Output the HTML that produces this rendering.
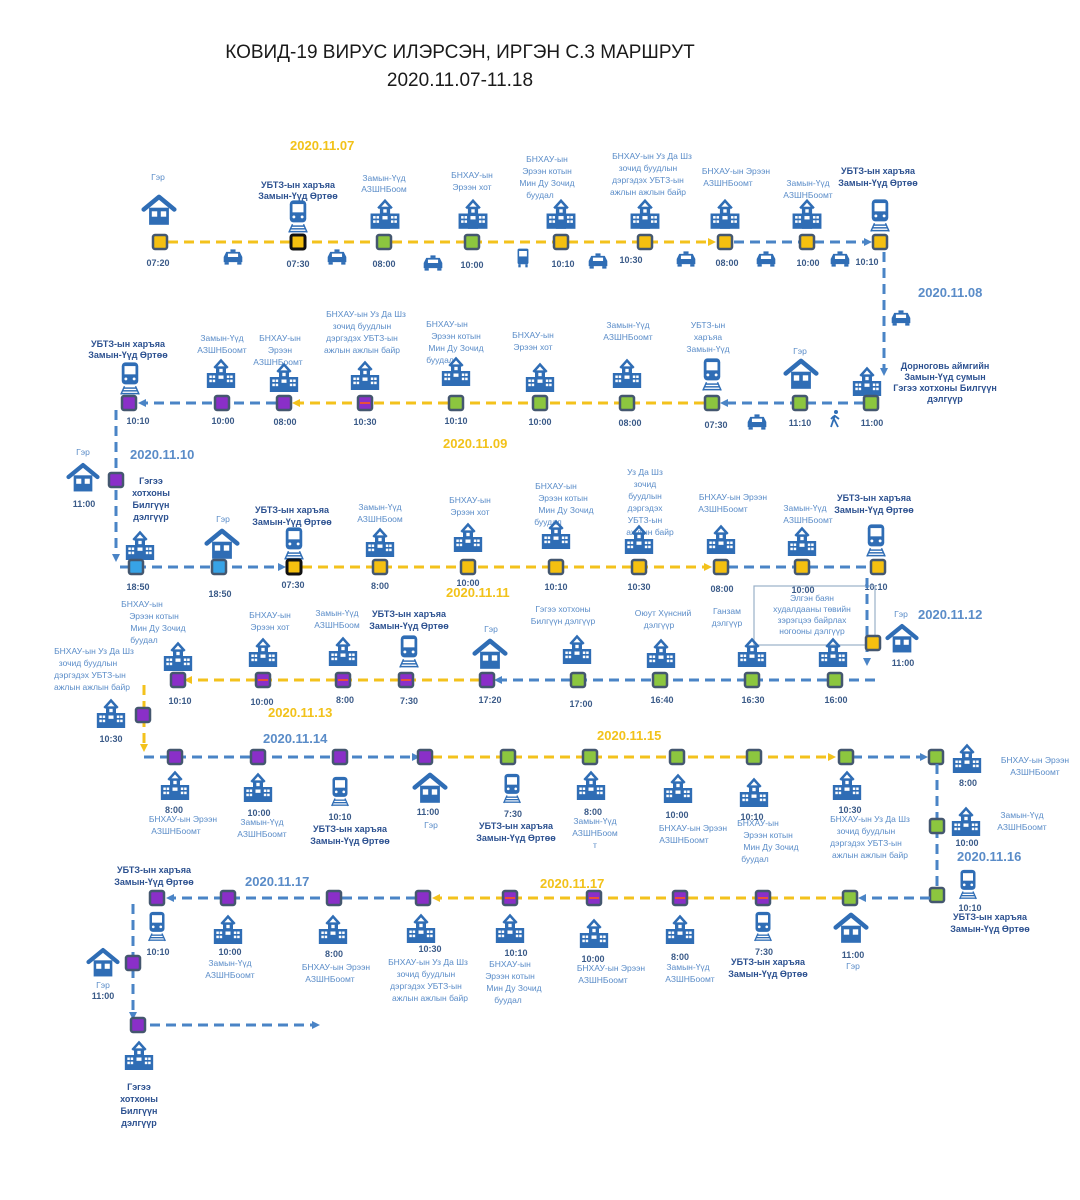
<!DOCTYPE html>
<html><head><meta charset="utf-8"><style>
html,body{margin:0;padding:0;background:#fff;}
svg{display:block;}
text{font-family:"Liberation Sans","DejaVu Sans",sans-serif;}
.l{fill:#5a8cc8;font-size:8.5px;text-anchor:middle;}
.b{fill:#2c5190;font-size:9px;font-weight:bold;text-anchor:middle;}
.t{fill:#3a5a88;font-size:9px;font-weight:bold;text-anchor:middle;}
.dy{fill:#f2c21a;font-size:13px;font-weight:bold;}
.db{fill:#5a8cc8;font-size:13px;font-weight:bold;}
.yl{stroke:#f3c21c;stroke-width:3;stroke-dasharray:10 6;fill:none;}
.bl{stroke:#4a84c6;stroke-width:3;stroke-dasharray:10 6;fill:none;}
.ny{fill:#f5c010;stroke:#44576f;stroke-width:2.5;}
.nk{fill:#f5c010;stroke:#111;stroke-width:3;}
.ng{fill:#8cc63f;stroke:#44576f;stroke-width:2.5;}
.np{fill:#8a2fc8;stroke:#44576f;stroke-width:2.5;}
.nb{fill:#37a3e6;stroke:#44576f;stroke-width:2.5;}
.rd{stroke:#e8503a;stroke-width:2;}
</style></head><body>
<svg width="1080" height="1200" viewBox="0 0 1080 1200" xmlns="http://www.w3.org/2000/svg">
<defs>
<symbol id="house" viewBox="0 0 40 34"><path d="M3 17 L20 3 L37 17" fill="none" stroke="#2f6db5" stroke-width="5" stroke-linecap="round" stroke-linejoin="round"/><rect x="9" y="15" width="22" height="19" fill="#2f6db5"/><rect x="12" y="19" width="6" height="6" fill="#fff"/><rect x="22" y="19" width="6" height="6" fill="#fff"/></symbol>
<symbol id="bld" viewBox="0 0 40 36"><path d="M12 12 L20 3 L28 12" fill="none" stroke="#2f6db5" stroke-width="3"/><rect x="14" y="10" width="12" height="26" fill="#2f6db5"/><rect x="3" y="18" width="34" height="18" fill="#2f6db5"/><rect x="18" y="13" width="4" height="4" fill="#fff"/><g fill="#fff"><rect x="6" y="21" width="3" height="3"/><rect x="10" y="21" width="3" height="3"/><rect x="6" y="26" width="3" height="3"/><rect x="10" y="26" width="3" height="3"/><rect x="27" y="21" width="3" height="3"/><rect x="31" y="21" width="3" height="3"/><rect x="27" y="26" width="3" height="3"/><rect x="31" y="26" width="3" height="3"/><rect x="17" y="21" width="6" height="4"/></g></symbol>
<symbol id="train" viewBox="0 0 24 36"><rect x="3" y="1" width="18" height="24" rx="4" fill="#2f6db5"/><rect x="6" y="5" width="12" height="9" fill="#fff"/><circle cx="7.5" cy="19" r="1.6" fill="#fff"/><circle cx="16.5" cy="19" r="1.6" fill="#fff"/><g stroke="#2f6db5" stroke-width="1.6"><line x1="6" y1="27" x2="2" y2="36"/><line x1="18" y1="27" x2="22" y2="36"/><line x1="5" y1="29" x2="19" y2="29"/><line x1="4" y1="32" x2="20" y2="32"/><line x1="3" y1="35" x2="21" y2="35"/></g></symbol>
<symbol id="car" viewBox="0 0 26 18"><rect x="10" y="0" width="6" height="3" fill="#2f6db5"/><path d="M5 3 H21 L24 9 V15 H2 V9 Z" fill="#2f6db5"/><rect x="7" y="5" width="12" height="4" fill="#fff"/><rect x="3" y="15" width="5" height="3" fill="#2f6db5"/><rect x="18" y="15" width="5" height="3" fill="#2f6db5"/></symbol>
<symbol id="bus" viewBox="0 0 18 24"><rect x="2" y="0" width="14" height="20" rx="2" fill="#2f6db5"/><rect x="4" y="3" width="10" height="7" fill="#fff"/><rect x="3" y="20" width="3" height="4" fill="#2f6db5"/><rect x="12" y="20" width="3" height="4" fill="#2f6db5"/></symbol>
<symbol id="walk" viewBox="0 0 12 18"><circle cx="7" cy="2" r="2" fill="#2f6db5"/><path d="M6 5 L4 11 L2 17 M5 9 L9 17 M6 6 L10 9 M5 6 L2 9" stroke="#2f6db5" stroke-width="1.8" fill="none"/></symbol>
<marker id="ab" markerWidth="8" markerHeight="8" refX="4" refY="4" orient="auto" markerUnits="userSpaceOnUse"><path d="M0 0 L8 4 L0 8 Z" fill="#4a84c6"/></marker>
<marker id="ay" markerWidth="8" markerHeight="8" refX="4" refY="4" orient="auto" markerUnits="userSpaceOnUse"><path d="M0 0 L8 4 L0 8 Z" fill="#f3c21c"/></marker>
</defs>

<!-- Title -->
<text x="460" y="58" text-anchor="middle" font-size="19" fill="#1a1a1a">КОВИД-19 ВИРУС ИЛЭРСЭН, ИРГЭН С.3 МАРШРУТ</text>
<text x="460" y="86" text-anchor="middle" font-size="19" fill="#1a1a1a">2020.11.07-11.18</text>

<!-- ROW 1 y=242 -->
<text class="dy" x="290" y="150">2020.11.07</text>
<path class="yl" d="M168 242 H712" marker-end="url(#ay)"/>
<path class="bl" d="M734 242 H868" marker-end="url(#ab)"/>
<path class="bl" d="M884 252 V372" marker-end="url(#ab)"/>
<text class="l" x="158" y="180">Гэр</text>
<text class="b" x="298" y="188">УБТЗ-ын харъяа</text><text class="b" x="298" y="199">Замын-Үүд Өртөө</text>
<text class="l" x="384" y="181">Замын-Үүд</text><text class="l" x="384" y="192">АЗШНБоом</text>
<text class="l" x="472" y="178">БНХАУ-ын</text><text class="l" x="472" y="190">Эрээн хот</text>
<text class="l" x="547" y="162">БНХАУ-ын</text><text class="l" x="547" y="174">Эрээн котын</text><text class="l" x="547" y="186">Мин Ду Зочид</text><text class="l" x="540" y="198">буудал</text>
<text class="l" x="652" y="159">БНХАУ-ын Уз Да Шз</text><text class="l" x="648" y="171">зочид буудлын</text><text class="l" x="648" y="183">дэргэдэх УБТЗ-ын</text><text class="l" x="648" y="195">ажлын ажлын байр</text>
<text class="l" x="736" y="174">БНХАУ-ын Эрээн</text><text class="l" x="728" y="186">АЗШНБоомт</text>
<text class="l" x="808" y="186">Замын-Үүд</text><text class="l" x="808" y="198">АЗШНБоомт</text>
<text class="b" x="878" y="174">УБТЗ-ын харъяа</text><text class="b" x="878" y="186">Замын-Үүд Өртөө</text>
<use href="#house" x="141" y="194" width="36" height="31"/>
<use href="#train" x="287" y="199" width="22" height="34"/>
<use href="#bld" x="368" y="198" width="34" height="31"/>
<use href="#bld" x="456" y="198" width="34" height="31"/>
<use href="#bld" x="544" y="198" width="34" height="31"/>
<use href="#bld" x="628" y="198" width="34" height="31"/>
<use href="#bld" x="708" y="198" width="34" height="31"/>
<use href="#bld" x="790" y="198" width="34" height="31"/>
<use href="#train" x="869" y="198" width="22" height="34"/>
<rect class="ny" x="153" y="235" width="14" height="14" rx="2"/>
<rect class="nk" x="291" y="235" width="14" height="14" rx="2"/>
<rect class="ng" x="377" y="235" width="14" height="14" rx="2"/>
<rect class="ng" x="465" y="235" width="14" height="14" rx="2"/>
<rect class="ny" x="554" y="235" width="14" height="14" rx="2"/>
<rect class="ny" x="638" y="235" width="14" height="14" rx="2"/>
<rect class="ny" x="718" y="235" width="14" height="14" rx="2"/>
<rect class="ny" x="800" y="235" width="14" height="14" rx="2"/>
<rect class="ny" x="873" y="235" width="14" height="14" rx="2"/>
<text class="t" x="158" y="266">07:20</text><text class="t" x="298" y="267">07:30</text><text class="t" x="384" y="267">08:00</text><text class="t" x="472" y="268">10:00</text><text class="t" x="563" y="267">10:10</text><text class="t" x="631" y="263">10:30</text><text class="t" x="727" y="266">08:00</text><text class="t" x="808" y="266">10:00</text><text class="t" x="867" y="265">10:10</text>
<use href="#car" x="222" y="249" width="22" height="16"/><use href="#car" x="326" y="249" width="22" height="16"/><use href="#car" x="422" y="255" width="22" height="16"/><use href="#bus" x="516" y="248" width="14" height="20"/><use href="#car" x="587" y="253" width="22" height="16"/><use href="#car" x="675" y="251" width="22" height="16"/><use href="#car" x="755" y="251" width="22" height="16"/><use href="#car" x="829" y="251" width="22" height="16"/>
<text class="db" x="918" y="297">2020.11.08</text>
<use href="#car" x="890" y="310" width="22" height="16"/>

<!-- ROW 2 y=403 -->
<path class="bl" d="M864 403 H724" marker-end="url(#ab)"/>
<path class="yl" d="M704 403 H296" marker-end="url(#ay)"/>
<path class="bl" d="M276 403 H142" marker-end="url(#ab)"/>
<text class="b" x="945" y="369">Дорноговь аймгийн</text><text class="b" x="945" y="380">Замын-Үүд сумын</text><text class="b" x="945" y="391">Гэгээ хотхоны Билгүүн</text><text class="b" x="945" y="402">дэлгүүр</text>
<use href="#bld" x="850" y="366" width="34" height="30"/>
<text class="l" x="800" y="354">Гэр</text>
<use href="#house" x="783" y="358" width="36" height="31"/>
<text class="l" x="708" y="328">УБТЗ-ын</text><text class="l" x="708" y="340">харъяа</text><text class="l" x="708" y="352">Замын-Үүд</text>
<use href="#train" x="701" y="357" width="22" height="34"/>
<text class="l" x="628" y="328">Замын-Үүд</text><text class="l" x="628" y="340">АЗШНБоомт</text>
<use href="#bld" x="610" y="358" width="34" height="30"/>
<text class="l" x="533" y="338">БНХАУ-ын</text><text class="l" x="533" y="350">Эрээн хот</text>
<use href="#bld" x="523" y="362" width="34" height="30"/>
<text class="l" x="447" y="327">БНХАУ-ын</text><text class="l" x="456" y="339">Эрээн котын</text><text class="l" x="456" y="351">Мин Ду Зочид</text><text class="l" x="440" y="363">буудал</text>
<use href="#bld" x="439" y="356" width="34" height="30"/>
<text class="l" x="366" y="317">БНХАУ-ын Уз Да Шз</text><text class="l" x="362" y="329">зочид буудлын</text><text class="l" x="362" y="341">дэргэдэх УБТЗ-ын</text><text class="l" x="362" y="353">ажлын ажлын байр</text>
<use href="#bld" x="348" y="360" width="34" height="30"/>
<text class="l" x="280" y="341">БНХАУ-ын</text><text class="l" x="280" y="353">Эрээн</text><text class="l" x="278" y="365">АЗШНБоомт</text>
<use href="#bld" x="267" y="362" width="34" height="30"/>
<text class="l" x="222" y="341">Замын-Үүд</text><text class="l" x="222" y="353">АЗШНБоомт</text>
<use href="#bld" x="204" y="358" width="34" height="30"/>
<text class="b" x="128" y="347">УБТЗ-ын харъяа</text><text class="b" x="128" y="358">Замын-Үүд Өртөө</text>
<use href="#train" x="119" y="361" width="22" height="34"/>
<rect class="ng" x="864" y="396" width="14" height="14" rx="2"/>
<rect class="ng" x="793" y="396" width="14" height="14" rx="2"/>
<rect class="ng" x="705" y="396" width="14" height="14" rx="2"/>
<rect class="ng" x="620" y="396" width="14" height="14" rx="2"/>
<rect class="ng" x="533" y="396" width="14" height="14" rx="2"/>
<rect class="ng" x="449" y="396" width="14" height="14" rx="2"/>
<rect class="np" x="358" y="396" width="14" height="14" rx="2"/><line class="rd" x1="360" y1="403" x2="370" y2="403"/>
<rect class="np" x="277" y="396" width="14" height="14" rx="2"/>
<rect class="np" x="215" y="396" width="14" height="14" rx="2"/>
<rect class="np" x="122" y="396" width="14" height="14" rx="2"/>
<text class="t" x="872" y="426">11:00</text><text class="t" x="800" y="426">11:10</text><text class="t" x="716" y="428">07:30</text><text class="t" x="630" y="426">08:00</text><text class="t" x="540" y="425">10:00</text><text class="t" x="456" y="424">10:10</text><text class="t" x="365" y="425">10:30</text><text class="t" x="285" y="425">08:00</text><text class="t" x="223" y="424">10:00</text><text class="t" x="138" y="424">10:10</text>
<use href="#car" x="746" y="414" width="22" height="16"/>
<use href="#walk" x="829" y="410" width="12" height="18"/>
<text class="dy" x="443" y="448">2020.11.09</text>

<!-- left vertical to row 3 -->
<path class="bl" d="M116 410 V558" marker-end="url(#ab)"/>
<text class="db" x="130" y="459">2020.11.10</text>
<text class="l" x="83" y="455">Гэр</text>
<use href="#house" x="66" y="462" width="34" height="30"/>
<text class="t" x="84" y="507">11:00</text>
<rect class="np" x="109" y="473" width="14" height="14" rx="2"/>
<text class="b" x="151" y="484">Гэгээ</text><text class="b" x="151" y="496">хотхоны</text><text class="b" x="151" y="508">Билгүүн</text><text class="b" x="151" y="520">дэлгүүр</text>

<!-- ROW 3 y=567 -->
<path class="bl" d="M120 567 H282" marker-end="url(#ab)"/>
<path class="yl" d="M302 567 H708" marker-end="url(#ay)"/>
<path class="bl" d="M728 567 H868"/>
<use href="#bld" x="123" y="530" width="34" height="30"/>
<text class="l" x="223" y="522">Гэр</text>
<use href="#house" x="204" y="528" width="36" height="31"/>
<text class="b" x="292" y="513">УБТЗ-ын харъяа</text><text class="b" x="292" y="525">Замын-Үүд Өртөө</text>
<use href="#train" x="283" y="526" width="22" height="34"/>
<text class="l" x="380" y="510">Замын-Үүд</text><text class="l" x="380" y="522">АЗШНБоом</text>
<use href="#bld" x="363" y="527" width="34" height="30"/>
<text class="l" x="470" y="503">БНХАУ-ын</text><text class="l" x="470" y="515">Эрээн хот</text>
<use href="#bld" x="451" y="522" width="34" height="30"/>
<text class="l" x="556" y="489">БНХАУ-ын</text><text class="l" x="563" y="501">Эрээн котын</text><text class="l" x="566" y="513">Мин Ду Зочид</text><text class="l" x="548" y="525">буудал</text>
<use href="#bld" x="539" y="519" width="34" height="30"/>
<text class="l" x="645" y="475">Уз Да Шз</text><text class="l" x="645" y="487">зочид</text><text class="l" x="645" y="499">буудлын</text><text class="l" x="645" y="511">дэргэдэх</text><text class="l" x="645" y="523">УБТЗ-ын</text><text class="l" x="650" y="535">ажлын байр</text>
<use href="#bld" x="622" y="524" width="34" height="30"/>
<text class="l" x="733" y="500">БНХАУ-ын Эрээн</text><text class="l" x="723" y="512">АЗШНБоомт</text>
<use href="#bld" x="704" y="524" width="34" height="30"/>
<text class="l" x="805" y="511">Замын-Үүд</text><text class="l" x="808" y="523">АЗШНБоомт</text>
<use href="#bld" x="785" y="526" width="34" height="30"/>
<text class="b" x="874" y="501">УБТЗ-ын харъяа</text><text class="b" x="874" y="513">Замын-Үүд Өртөө</text>
<use href="#train" x="865" y="523" width="22" height="34"/>
<rect class="nb" x="129" y="560" width="14" height="14" rx="2"/>
<rect class="nb" x="212" y="560" width="14" height="14" rx="2"/>
<rect class="nk" x="287" y="560" width="14" height="14" rx="2"/>
<rect class="ny" x="373" y="560" width="14" height="14" rx="2"/>
<rect class="ny" x="461" y="560" width="14" height="14" rx="2"/>
<rect class="ny" x="549" y="560" width="14" height="14" rx="2"/>
<rect class="ny" x="632" y="560" width="14" height="14" rx="2"/>
<rect class="ny" x="714" y="560" width="14" height="14" rx="2"/>
<rect class="ny" x="795" y="560" width="14" height="14" rx="2"/>
<rect class="ny" x="871" y="560" width="14" height="14" rx="2"/>
<text class="t" x="138" y="590">18:50</text><text class="t" x="220" y="597">18:50</text><text class="t" x="293" y="588">07:30</text><text class="t" x="380" y="589">8:00</text><text class="t" x="468" y="586">10:00</text><text class="t" x="556" y="590">10:10</text><text class="t" x="639" y="590">10:30</text><text class="t" x="722" y="592">08:00</text><text class="t" x="803" y="593">10:00</text><text class="t" x="876" y="590">10:10</text>
<text class="dy" x="446" y="597">2020.11.11</text>
<text class="l" x="142" y="607">БНХАУ-ын</text><text class="l" x="154" y="619">Эрээн котын</text><text class="l" x="158" y="631">Мин Ду Зочид</text><text class="l" x="144" y="643">буудал</text>

<!-- 11.12 box and vertical -->
<rect x="754" y="586" width="121" height="59" fill="none" stroke="#9ab0c8" stroke-width="1.2"/>
<text class="l" x="812" y="601" font-size="7.5">Элгэн баян</text><text class="l" x="812" y="612" font-size="7.5">худалдааны төвийн</text><text class="l" x="812" y="623" font-size="7.5">зэрэгцээ байрлах</text><text class="l" x="812" y="634" font-size="7.5">ногооны дэлгүүр</text>
<path class="bl" d="M867 578 V662" marker-end="url(#ab)"/>
<rect class="ny" x="866" y="636" width="14" height="14" rx="2"/>
<text class="l" x="901" y="617">Гэр</text>
<use href="#house" x="885" y="623" width="34" height="30"/>
<text class="t" x="903" y="666">11:00</text>
<text class="db" x="918" y="619">2020.11.12</text>

<!-- ROW 4 y=680 -->
<path class="bl" d="M875 680 H498" marker-end="url(#ab)"/>
<path class="yl" d="M480 680 H188" marker-end="url(#ay)"/>
<use href="#bld" x="816" y="637" width="34" height="30"/>
<use href="#bld" x="735" y="637" width="34" height="30"/>
<text class="l" x="727" y="614">Ганзам</text><text class="l" x="727" y="626">дэлгүүр</text>
<text class="l" x="663" y="616">Оюут Хүнсний</text><text class="l" x="659" y="628">дэлгүүр</text>
<use href="#bld" x="644" y="638" width="34" height="30"/>
<text class="l" x="563" y="612">Гэгээ хотхоны</text><text class="l" x="563" y="624">Билгүүн дэлгүүр</text>
<use href="#bld" x="560" y="634" width="34" height="30"/>
<text class="l" x="491" y="632">Гэр</text>
<use href="#house" x="472" y="638" width="36" height="31"/>
<text class="b" x="409" y="617">УБТЗ-ын харъяа</text><text class="b" x="409" y="629">Замын-Үүд Өртөө</text>
<use href="#train" x="398" y="634" width="22" height="34"/>
<text class="l" x="337" y="616">Замын-Үүд</text><text class="l" x="337" y="628">АЗШНБоом</text>
<use href="#bld" x="326" y="636" width="34" height="30"/>
<text class="l" x="270" y="618">БНХАУ-ын</text><text class="l" x="270" y="630">Эрээн хот</text>
<use href="#bld" x="246" y="637" width="34" height="30"/>
<use href="#bld" x="161" y="641" width="34" height="30"/>
<rect class="ng" x="828" y="673" width="14" height="14" rx="2"/>
<rect class="ng" x="745" y="673" width="14" height="14" rx="2"/>
<rect class="ng" x="653" y="673" width="14" height="14" rx="2"/>
<rect class="ng" x="571" y="673" width="14" height="14" rx="2"/>
<rect class="np" x="480" y="673" width="14" height="14" rx="2"/>
<rect class="np" x="399" y="673" width="14" height="14" rx="2"/><line class="rd" x1="401" y1="680" x2="411" y2="680"/>
<rect class="np" x="336" y="673" width="14" height="14" rx="2"/><line class="rd" x1="338" y1="680" x2="348" y2="680"/>
<rect class="np" x="256" y="673" width="14" height="14" rx="2"/><line class="rd" x1="258" y1="680" x2="268" y2="680"/>
<rect class="np" x="171" y="673" width="14" height="14" rx="2"/>
<text class="t" x="836" y="703">16:00</text><text class="t" x="753" y="703">16:30</text><text class="t" x="662" y="703">16:40</text><text class="t" x="581" y="707">17:00</text><text class="t" x="490" y="703">17:20</text><text class="t" x="409" y="704">7:30</text><text class="t" x="345" y="703">8:00</text><text class="t" x="262" y="705">10:00</text><text class="t" x="180" y="704">10:10</text>
<text class="dy" x="268" y="717">2020.11.13</text>
<text class="l" x="94" y="654">БНХАУ-ын Уз Да Шз</text><text class="l" x="88" y="666">зочид буудлын</text><text class="l" x="90" y="678">дэргэдэх УБТЗ-ын</text><text class="l" x="92" y="690">ажлын ажлын байр</text>
<path class="yl" d="M144 685 V748" marker-end="url(#ay)"/>
<use href="#bld" x="94" y="698" width="34" height="30"/>
<rect class="np" x="136" y="708" width="14" height="14" rx="2"/>
<text class="t" x="111" y="742">10:30</text>

<!-- ROW 5 y=757 -->
<path class="bl" d="M144 757 H416" marker-end="url(#ab)"/>
<path class="yl" d="M432 757 H832" marker-end="url(#ay)"/>
<path class="bl" d="M852 757 H924" marker-end="url(#ab)"/>
<text class="db" x="263" y="743">2020.11.14</text>
<text class="dy" x="597" y="740">2020.11.15</text>
<rect class="np" x="168" y="750" width="14" height="14" rx="2"/>
<rect class="np" x="251" y="750" width="14" height="14" rx="2"/>
<rect class="np" x="333" y="750" width="14" height="14" rx="2"/>
<rect class="np" x="418" y="750" width="14" height="14" rx="2"/>
<rect class="ng" x="501" y="750" width="14" height="14" rx="2"/>
<rect class="ng" x="583" y="750" width="14" height="14" rx="2"/>
<rect class="ng" x="670" y="750" width="14" height="14" rx="2"/>
<rect class="ng" x="747" y="750" width="14" height="14" rx="2"/>
<rect class="ng" x="839" y="750" width="14" height="14" rx="2"/>
<rect class="ng" x="929" y="750" width="14" height="14" rx="2"/>
<use href="#bld" x="158" y="770" width="34" height="30"/>
<use href="#bld" x="241" y="772" width="34" height="30"/>
<use href="#train" x="330" y="775" width="20" height="32"/>
<use href="#house" x="412" y="772" width="36" height="31"/>
<use href="#train" x="502" y="772" width="20" height="32"/>
<use href="#bld" x="574" y="770" width="34" height="30"/>
<use href="#bld" x="661" y="773" width="34" height="30"/>
<use href="#bld" x="737" y="777" width="34" height="30"/>
<use href="#bld" x="830" y="770" width="34" height="30"/>
<text class="t" x="174" y="813">8:00</text><text class="t" x="259" y="816">10:00</text><text class="t" x="340" y="820">10:10</text><text class="t" x="428" y="815">11:00</text><text class="t" x="513" y="817">7:30</text><text class="t" x="593" y="815">8:00</text><text class="t" x="677" y="818">10:00</text><text class="t" x="752" y="820">10:10</text><text class="t" x="850" y="813">10:30</text>
<text class="l" x="183" y="822">БНХАУ-ын Эрээн</text><text class="l" x="176" y="834">АЗШНБоомт</text>
<text class="l" x="262" y="825">Замын-Үүд</text><text class="l" x="262" y="837">АЗШНБоомт</text>
<text class="b" x="350" y="832">УБТЗ-ын харъяа</text><text class="b" x="350" y="844">Замын-Үүд Өртөө</text>
<text class="l" x="431" y="828">Гэр</text>
<text class="b" x="516" y="829">УБТЗ-ын харъяа</text><text class="b" x="516" y="841">Замын-Үүд Өртөө</text>
<text class="l" x="595" y="824">Замын-Үүд</text><text class="l" x="595" y="836">АЗШНБоом</text><text class="l" x="595" y="848">т</text>
<text class="l" x="693" y="831">БНХАУ-ын Эрээн</text><text class="l" x="684" y="843">АЗШНБоомт</text>
<text class="l" x="758" y="826">БНХАУ-ын</text><text class="l" x="768" y="838">Эрээн котын</text><text class="l" x="771" y="850">Мин Ду Зочид</text><text class="l" x="755" y="862">буудал</text>
<text class="l" x="870" y="822">БНХАУ-ын Уз Да Шз</text><text class="l" x="866" y="834">зочид буудлын</text><text class="l" x="866" y="846">дэргэдэх УБТЗ-ын</text><text class="l" x="870" y="858">ажлын ажлын байр</text>

<!-- right vertical 11.16 -->
<path class="bl" d="M937 764 V886"/>
<rect class="ng" x="930" y="819" width="14" height="14" rx="2"/>
<rect class="ng" x="930" y="888" width="14" height="14" rx="2"/>
<use href="#bld" x="950" y="743" width="34" height="30"/>
<text class="t" x="968" y="786">8:00</text>
<text class="l" x="1035" y="763">БНХАУ-ын Эрээн</text><text class="l" x="1035" y="775">АЗШНБоомт</text>
<use href="#bld" x="949" y="806" width="34" height="30"/>
<text class="t" x="967" y="846">10:00</text>
<text class="l" x="1022" y="818">Замын-Үүд</text><text class="l" x="1022" y="830">АЗШНБоомт</text>
<text class="db" x="957" y="861">2020.11.16</text>
<use href="#train" x="958" y="868" width="20" height="32"/>
<text class="t" x="970" y="911">10:10</text>
<text class="b" x="990" y="920">УБТЗ-ын харъяа</text><text class="b" x="990" y="932">Замын-Үүд Өртөө</text>

<!-- ROW 6 y=898 -->
<path class="bl" d="M930 898 H862" marker-end="url(#ab)"/>
<path class="yl" d="M842 898 H436" marker-end="url(#ay)"/>
<path class="bl" d="M416 898 H170" marker-end="url(#ab)"/>
<text class="db" x="245" y="886">2020.11.17</text>
<text class="dy" x="540" y="888">2020.11.17</text>
<rect class="ng" x="843" y="891" width="14" height="14" rx="2"/>
<rect class="np" x="756" y="891" width="14" height="14" rx="2"/><line class="rd" x1="758" y1="898" x2="768" y2="898"/>
<rect class="np" x="673" y="891" width="14" height="14" rx="2"/><line class="rd" x1="675" y1="898" x2="685" y2="898"/>
<rect class="np" x="587" y="891" width="14" height="14" rx="2"/><line class="rd" x1="589" y1="898" x2="599" y2="898"/>
<rect class="np" x="503" y="891" width="14" height="14" rx="2"/><line class="rd" x1="505" y1="898" x2="515" y2="898"/>
<rect class="np" x="416" y="891" width="14" height="14" rx="2"/>
<rect class="np" x="327" y="891" width="14" height="14" rx="2"/>
<rect class="np" x="221" y="891" width="14" height="14" rx="2"/>
<rect class="np" x="150" y="891" width="14" height="14" rx="2"/>
<use href="#house" x="833" y="912" width="36" height="31"/>
<use href="#train" x="753" y="910" width="20" height="32"/>
<use href="#bld" x="663" y="914" width="34" height="30"/>
<use href="#bld" x="577" y="918" width="34" height="30"/>
<use href="#bld" x="493" y="913" width="34" height="30"/>
<use href="#bld" x="404" y="913" width="34" height="30"/>
<use href="#bld" x="316" y="914" width="34" height="30"/>
<use href="#bld" x="211" y="914" width="34" height="30"/>
<use href="#train" x="147" y="910" width="20" height="32"/>
<text class="t" x="853" y="958">11:00</text><text class="l" x="853" y="969">Гэр</text>
<text class="t" x="764" y="955">7:30</text><text class="b" x="768" y="965">УБТЗ-ын харъяа</text><text class="b" x="768" y="977">Замын-Үүд Өртөө</text>
<text class="t" x="680" y="960">8:00</text><text class="l" x="688" y="970">Замын-Үүд</text><text class="l" x="690" y="982">АЗШНБоомт</text>
<text class="t" x="593" y="962">10:00</text><text class="l" x="611" y="971">БНХАУ-ын Эрээн</text><text class="l" x="603" y="983">АЗШНБоомт</text>
<text class="t" x="516" y="956">10:10</text><text class="l" x="510" y="967">БНХАУ-ын</text><text class="l" x="510" y="979">Эрээн котын</text><text class="l" x="514" y="991">Мин Ду Зочид</text><text class="l" x="508" y="1003">буудал</text>
<text class="t" x="430" y="952">10:30</text><text class="l" x="428" y="965">БНХАУ-ын Уз Да Шз</text><text class="l" x="426" y="977">зочид буудлын</text><text class="l" x="426" y="989">дэргэдэх УБТЗ-ын</text><text class="l" x="430" y="1001">ажлын ажлын байр</text>
<text class="t" x="334" y="957">8:00</text><text class="l" x="336" y="970">БНХАУ-ын Эрээн</text><text class="l" x="330" y="982">АЗШНБоомт</text>
<text class="t" x="230" y="955">10:00</text><text class="l" x="230" y="966">Замын-Үүд</text><text class="l" x="230" y="978">АЗШНБоомт</text>
<text class="t" x="158" y="955">10:10</text>
<text class="b" x="154" y="873">УБТЗ-ын харъяа</text><text class="b" x="154" y="885">Замын-Үүд Өртөө</text>
<path class="bl" d="M133 904 V1016" marker-end="url(#ab)"/>
<rect class="np" x="126" y="956" width="14" height="14" rx="2"/>
<use href="#house" x="86" y="947" width="34" height="30"/>
<text class="l" x="103" y="988">Гэр</text><text class="t" x="103" y="999">11:00</text>
<rect class="np" x="131" y="1018" width="14" height="14" rx="2"/>
<path class="bl" d="M150 1025 H316" marker-end="url(#ab)"/>
<use href="#bld" x="122" y="1040" width="34" height="30"/>
<text class="b" x="139" y="1090">Гэгээ</text><text class="b" x="139" y="1102">хотхоны</text><text class="b" x="139" y="1114">Билгүүн</text><text class="b" x="139" y="1126">дэлгүүр</text>
</svg>
</body></html>
